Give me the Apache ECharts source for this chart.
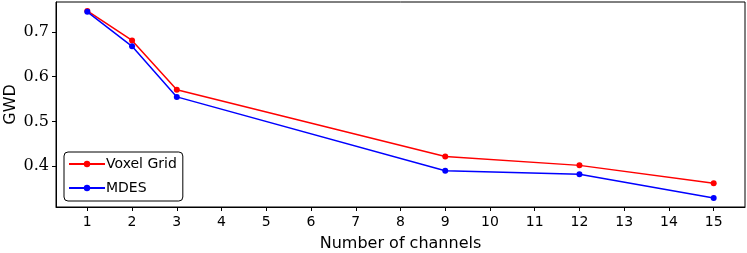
<!DOCTYPE html>
<html>
<head>
<meta charset="utf-8">
<script src="https://cdn.jsdelivr.net/npm/echarts@6/dist/echarts.min.js"></script>
<style>
  html, body { margin: 0; padding: 0; background: #fff; }
  #main { width: 747px; height: 253px; }
</style>
</head>
<body>
<div id="main"></div>
<script>
// 通道数（x）
var channels = [1, 2, 3, 9, 12, 15];
// 两条曲线的 GWD 值
var voxelGrid = [0.747, 0.681, 0.571, 0.422, 0.402, 0.362];
var mdes = [0.745, 0.668, 0.555, 0.390, 0.382, 0.329];
// y 轴要显示的刻度
var yTickLabels = [0.4, 0.5, 0.6, 0.7];

function pairs(xs, ys) {
    return xs.map(function (x, i) { return [x, ys[i]]; });
}

var chart = echarts.init(document.getElementById('main'));

var option = {
    animation: false,
    grid: {
        left: 56, right: 2, top: 2, bottom: 46,
        outerBoundsMode: 'none',
        containLabel: false,
        show: true,
        borderColor: '#000',
        borderWidth: 1,
        backgroundColor: 'transparent'
    },
    legend: {
        orient: 'vertical',
        left: 64,
        top: 152,
        padding: [4, 6, 5, 4],
        itemGap: 8,
        itemWidth: 36,
        itemHeight: 8,
        borderColor: '#000',
        borderWidth: 1,
        borderRadius: 4,
        backgroundColor: '#fff',
        textStyle: { fontFamily: 'DejaVu Sans', fontSize: 14, lineHeight: 16, color: '#000', padding: [0, 0, 0, -4] },
        data: ['Voxel Grid', 'MDES']
    },
    xAxis: {
        type: 'value',
        min: 0.3,
        max: 15.7,
        splitNumber: 15,
        minInterval: 1,
        maxInterval: 1,
        name: 'Number of channels',
        nameLocation: 'middle',
        nameGap: 29,
        nameMoveOverlap: false,
        nameTextStyle: { fontFamily: 'DejaVu Sans', fontSize: 16, color: '#000' },
        axisLine: { show: true, onZero: false, lineStyle: { color: '#000', width: 1 } },
        axisTick: { show: true, length: 4, lineStyle: { color: '#000' } },
        axisLabel: {
            fontFamily: 'DejaVu Sans', fontSize: 14, color: '#000', margin: 8,
            showMinLabel: false, showMaxLabel: false,
            formatter: function (v) {
                return Math.abs(v - Math.round(v)) < 1e-6 ? String(Math.round(v)) : '';
            }
        },
        splitLine: { show: false }
    },
    yAxis: {
        type: 'value',
        min: 0.309,
        max: 0.767,
        splitNumber: 5,
        name: 'GWD',
        nameLocation: 'middle',
        nameGap: 37,
        nameMoveOverlap: false,
        nameTextStyle: { fontFamily: 'DejaVu Sans', fontSize: 16, color: '#000' },
        axisLine: { show: true, lineStyle: { color: '#000', width: 1 } },
        axisTick: { show: true, length: 4, lineStyle: { color: '#000' } },
        axisLabel: {
            fontFamily: 'DejaVu Serif', fontSize: 16, color: '#000', margin: 7,
            showMinLabel: false, showMaxLabel: false,
            formatter: function (v) {
                var hit = yTickLabels.filter(function (t) { return Math.abs(t - v) < 1e-6; });
                return hit.length ? hit[0].toFixed(1) : '';
            }
        },
        splitLine: { show: false }
    },
    series: [
        {
            name: 'Voxel Grid',
            type: 'line',
            data: pairs(channels, voxelGrid),
            color: '#ff0000',
            symbol: 'circle',
            symbolSize: 6,
            lineStyle: { width: 1.5, color: '#ff0000' },
            itemStyle: { color: '#ff0000' }
        },
        {
            name: 'MDES',
            type: 'line',
            data: pairs(channels, mdes),
            color: '#0000ff',
            symbol: 'circle',
            symbolSize: 6,
            lineStyle: { width: 1.5, color: '#0000ff' },
            itemStyle: { color: '#0000ff' }
        }
    ]
};

chart.setOption(option);
</script>
</body>
</html>
